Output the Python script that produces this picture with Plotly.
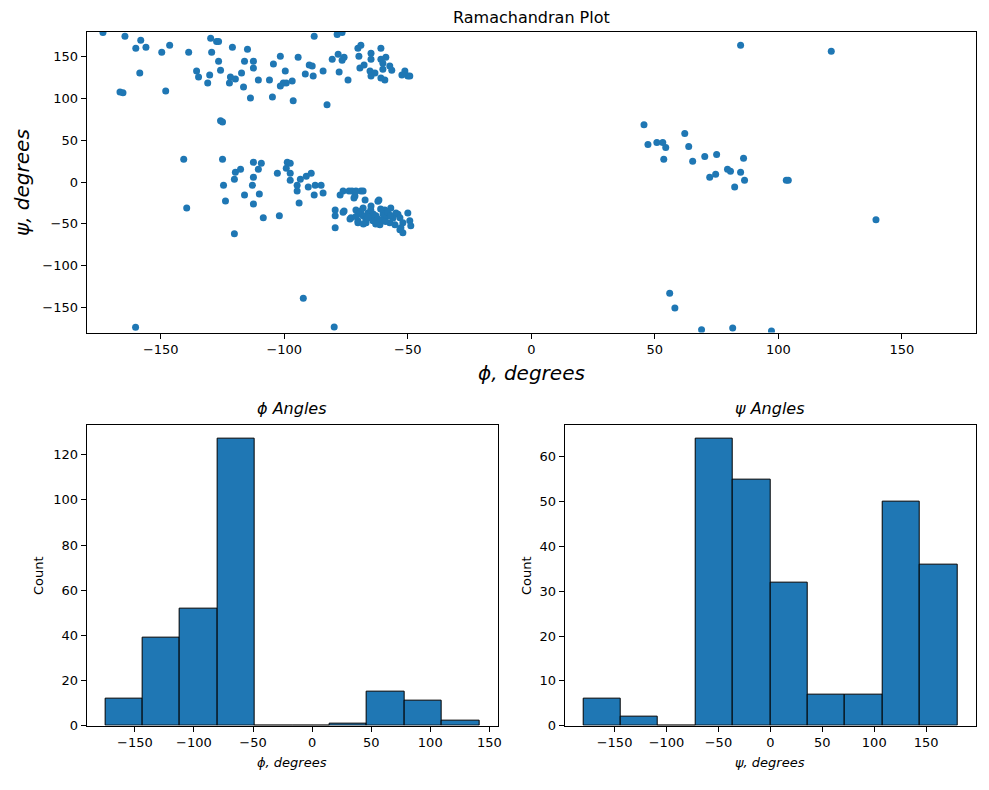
import plotly.graph_objects as go

# ---- Scatter data (phi, psi in degrees) ----
phi_deg = [
    -173.4, -164.5, -158.1, -160.1, -156.0, -149.6, -146.4, -138.7, -158.5, -166.5, -165.3, -148.0,
    -135.5, -134.7, -131.0, -130.2, -129.8, -127.4, -126.6, -129.4, -126.6, -125.8, -121.0, -114.9,
    -116.1, -112.5, -112.5, -117.3, -121.8, -122.2, -119.8, -116.5, -113.7, -125.8, -125.0,
    -87.9, -78.6, -76.6, -101.6, -104.4, -99.6, -94.4, -110.5, -106.0, -101.6, -100.4, -99.2, -96.8,
    -104.8, -96.4, -82.7, -91.5, -89.9, -88.7, -88.3, -84.3, -80.6, -78.2, -75.8, -76.6, -77.8, -74.2,
    -70.2, -69.0, -69.8, -69.4, -67.7, -64.9, -64.9, -65.3, -64.9, -63.3, -60.9, -60.9, -58.9, -60.1,
    -60.1, -60.9, -59.3, -57.3, -56.5, -51.2, -50.0, -49.2, -52.4,
    -140.7, -125.0, -139.5, -120.2, -124.6, -123.8, -120.2, -119.8, -117.7, -116.1, -112.5, -112.5,
    -112.9, -112.5, -110.1, -108.5, -109.3, -110.5, -102.8, -102.0, -98.8, -97.6, -99.2, -97.6, -97.6,
    -94.8, -94.8, -94.0, -93.5, -91.1, -89.1, -90.3, -87.5, -87.9,
    -85.1, -84.3, -79.4, -79.4, -79.4, -75.8, -77.4, -76.2, -73.8, -72.6, -71.0, -69.0, -68.1, -71.8,
    -71.4, -67.3, -61.7, -62.1, -76.2, -73.0, -73.4, -71.0, -68.1, -66.1, -64.9, -62.9, -70.2, -70.2,
    -66.9, -64.1, -61.3, -59.3, -56.9, -58.1, -57.3, -54.8, -54.0, -53.2, -52.0, -50.0, -49.2, -48.8,
    -53.2, -52.0, -52.8, -68.1, -65.3, -60.1, -55.2, -69.0, -67.0, -64.0, -62.0, -60.0, -58.0, -66.0,
    -63.0, -59.0, -56.0, -70.0, -68.0, -61.0, -57.0, -65.0, -71.0,
    84.7, 121.4, 45.6, 47.2, 50.8, 53.2, 54.4, 53.6, 62.1, 63.7, 65.3, 70.2, 75.0, 85.9, 72.2, 74.6,
    79.4, 80.6, 84.7, 86.3, 82.3, 103.2, 104.0, 139.5,
    -160.2, -92.3, -79.8, 56.0, 58.1, 68.9, 81.5, 97.2,
]
psi_deg = [
    179.1, 174.4, 169.6, 160.1, 161.3, 155.4, 163.7, 155.4, 130.5, 107.9, 106.8, 109.1,
    132.9, 125.7, 118.6, 128.1, 172.0, 168.4, 168.4, 155.4, 144.7, 134.0, 161.3, 159.0,
    144.7, 144.7, 136.4, 130.5, 125.7, 118.6, 123.4, 113.9, 100.8, 73.5, 72.0,
    174.4, 176.7, 179.1, 150.7, 141.2, 132.9, 149.5, 122.2, 122.2, 115.1, 118.6, 118.6, 121.0,
    102.0, 97.3, 92.5, 129.3, 140.0, 138.8, 126.9, 132.9, 147.1, 153.0, 149.5, 145.9, 131.7, 122.2,
    160.1, 163.7, 150.7, 136.4, 140.0, 154.2, 147.1, 132.9, 126.9, 130.5, 160.1, 147.1, 149.5, 142.3,
    135.2, 124.6, 122.2, 138.8, 134.0, 132.9, 126.9, 126.9, 128.1,
    27.3, 27.3, -30.8, -61.7, -3.6, -22.5, 3.6, 11.9, 15.4, -15.4, 23.7, 5.9,
    -3.6, -26.1, -14.2, -42.7, 22.5, 15.4, 10.7, -40.3, 23.7, 22.5, 16.6, 10.7, 2.4,
    -3.6, -10.7, -24.9, 3.6, 7.1, 10.7, -5.9, -3.6, -15.4,
    -3.6, -13.0, -33.2, -40.3, -54.6, -34.4, -15.4, -10.7, -10.7, -10.7, -10.7, -10.7, -10.7, -19.0,
    -16.6, -21.4, -21.4, -23.0, -36.0, -42.7, -44.0, -33.2, -30.8, -36.8, -28.5, -40.3, -48.6, -46.3,
    -48.6, -46.3, -51.0, -33.2, -30.8, -40.3, -48.6, -36.8, -38.5, -42.7, -48.6, -36.8, -46.3, -52.2,
    -56.9, -60.5, -54.6, -40.3, -42.7, -45.1, -51.0, -34.4, -45.0, -38.0, -44.0, -38.0, -36.0, -42.0,
    -50.0, -47.0, -43.0, -38.0, -50.0, -32.0, -40.0, -33.0, -41.0,
    163.7, 156.6, 68.8, 45.1, 47.4, 47.4, 41.5, 27.3, 58.1, 42.7, 24.9, 30.8, 33.2, 28.5, 5.9, 9.5,
    15.4, 13.0, 11.9, 2.4, -5.9, 2.4, 2.4, -45.1,
    -173.6, -138.8, -173.2, -132.9, -150.7, -176.7, -174.4, -178.0,
]

# ---- Histogram data ----
phi_bin_start = -175.0
phi_bin_width = 31.65
phi_counts = [12, 39, 52, 127, 0, 0, 1, 15, 11, 2]

psi_bin_start = -180.0
psi_bin_width = 36.0
psi_counts = [6, 2, 0, 64, 55, 32, 7, 7, 50, 36]

tick_vals = [-150, -100, -50, 0, 50, 100, 150]
tick_text = ["\u2212150", "\u2212100", "\u221250", "0", "50", "100", "150"]

BLUE = "#1f77b4"
FONT = "DejaVu Sans"
W, H = 989, 790


def px_x(p):
    return p / W


def px_y(p):
    return (H - p) / H


phi_centers = [phi_bin_start + phi_bin_width * (i + 0.5) for i in range(len(phi_counts))]
psi_centers = [psi_bin_start + psi_bin_width * (i + 0.5) for i in range(len(psi_counts))]

fig = go.Figure()
fig.add_trace(go.Scatter(
    x=phi_deg, y=psi_deg, mode="markers",
    marker=dict(color=BLUE, size=7, line=dict(width=0)),
    xaxis="x", yaxis="y", showlegend=False,
))
fig.add_trace(go.Bar(
    x=phi_centers, y=phi_counts, width=phi_bin_width,
    marker=dict(color=BLUE, line=dict(color="black", width=1)),
    xaxis="x2", yaxis="y2", showlegend=False,
))
fig.add_trace(go.Bar(
    x=psi_centers, y=psi_counts, width=psi_bin_width,
    marker=dict(color=BLUE, line=dict(color="black", width=1)),
    xaxis="x3", yaxis="y3", showlegend=False,
))

axis_common = dict(
    showline=True, linecolor="black", linewidth=1, mirror=True,
    ticks="outside", ticklen=5, tickwidth=1, tickcolor="black",
    showgrid=False, zeroline=False,
    tickfont=dict(family=FONT, size=13, color="black"),
)

phi_lo = phi_bin_start
phi_hi = phi_bin_start + phi_bin_width * len(phi_counts)
phi_pad = (phi_hi - phi_lo) * 0.05
psi_lo = psi_bin_start
psi_hi = psi_bin_start + psi_bin_width * len(psi_counts)
psi_pad = (psi_hi - psi_lo) * 0.05

fig.update_layout(
    width=W, height=H,
    margin=dict(l=0, r=0, t=0, b=0),
    paper_bgcolor="white", plot_bgcolor="white",
    font=dict(family=FONT, color="black"),
    bargap=0,
    xaxis=dict(domain=[px_x(87), px_x(980)], anchor="y", range=[-180, 180],
               tickvals=tick_vals, ticktext=tick_text, **axis_common),
    yaxis=dict(domain=[px_y(336), px_y(32)], anchor="x", range=[-180, 180],
               tickvals=tick_vals, ticktext=tick_text, **axis_common),
    xaxis2=dict(domain=[px_x(87), px_x(500)], anchor="y2",
                range=[phi_lo - phi_pad, phi_hi + phi_pad],
                tickvals=tick_vals, ticktext=tick_text, **axis_common),
    yaxis2=dict(domain=[px_y(733), px_y(429)], anchor="x2",
                range=[0, max(phi_counts) * 1.05], dtick=20, **axis_common),
    xaxis3=dict(domain=[px_x(567), px_x(980)], anchor="y3",
                range=[psi_lo - psi_pad, psi_hi + psi_pad],
                tickvals=tick_vals, ticktext=tick_text, **axis_common),
    yaxis3=dict(domain=[px_y(733), px_y(429)], anchor="x3",
                range=[0, max(psi_counts) * 1.05], dtick=10, **axis_common),
)

ann = [
    dict(text="Ramachandran Plot", x=px_x(533.5), y=px_y(18), size=16, angle=0),
    dict(text="<i>\u03d5, degrees</i>", x=px_x(533.5), y=px_y(377), size=20, angle=0),
    dict(text="<i>\u03c8, degrees</i>", x=px_x(22), y=px_y(184), size=20, angle=-90),
    dict(text="<i>\u03d5 Angles</i>", x=px_x(293.5), y=px_y(413), size=16, angle=0),
    dict(text="<i>\u03c8 Angles</i>", x=px_x(773.5), y=px_y(413), size=16, angle=0),
    dict(text="<i>\u03d5, degrees</i>", x=px_x(293.5), y=px_y(770), size=13, angle=0),
    dict(text="<i>\u03c8, degrees</i>", x=px_x(773.5), y=px_y(770), size=13, angle=0),
    dict(text="Count", x=px_x(38), y=px_y(581), size=13, angle=-90),
    dict(text="Count", x=px_x(528), y=px_y(581), size=13, angle=-90),
]
for a in ann:
    fig.add_annotation(
        text=a["text"], x=a["x"], y=a["y"], xref="paper", yref="paper",
        xanchor="center", yanchor="middle", showarrow=False, textangle=a["angle"],
        font=dict(family=FONT, size=a["size"], color="black"),
    )

fig.write_html(
    "out.html",
    config={"displayModeBar": False},
    post_script="document.body.style.margin='0';document.body.style.overflow='hidden';",
)
